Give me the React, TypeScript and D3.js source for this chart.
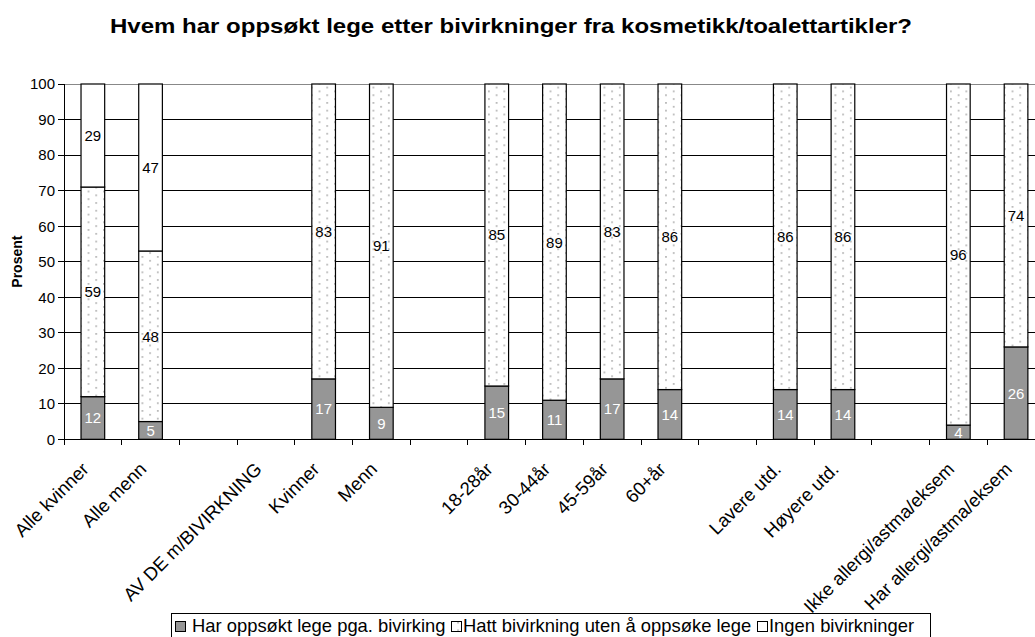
import React from "react";
import * as d3 from "d3";

// Category slots along the x axis (empty strings are spacer slots between groups)
const categories = [
  "Alle kvinner",
  "Alle menn",
  "",
  "AV DE m/BIVIRKNING",
  "Kvinner",
  "Menn",
  "",
  "18-28år",
  "30-44år",
  "45-59år",
  "60+år",
  "",
  "Lavere utd.",
  "Høyere utd.",
  "",
  "Ikke allergi/astma/eksem",
  "Har allergi/astma/eksem",
];

// Percent values per category, one array per series (null = no bar)
const harOppsoktLege = [12, 5, null, null, 17, 9, null, 15, 11, 17, 14, null, 14, 14, null, 4, 26];
const hattUtenLege = [59, 48, null, null, 83, 91, null, 85, 89, 83, 86, null, 86, 86, null, 96, 74];
const ingenBivirkninger = [29, 47, null, null, null, null, null, null, null, null, null, null, null, null, null, null, null];

const seriesNames = [
  "Har oppsøkt lege pga. bivirking",
  "Hatt bivirkning uten å oppsøke lege",
  "Ingen bivirkninger",
];

const yTicks = [0, 10, 20, 30, 40, 50, 60, 70, 80, 90, 100];

const title = "Hvem har oppsøkt lege etter bivirkninger fra kosmetikk/toalettartikler?";
const yLabel = "Prosent";

const W = 1035;
const H = 637;
const FONT = "'Liberation Sans', Arial, Helvetica, sans-serif";

export default function App() {
  const left = 64;
  const slot = 57.7;
  const top = 84;
  const bottom = 439.3;

  const idx = d3.range(categories.length);
  const x = d3
    .scaleBand<number>()
    .domain(idx)
    .range([left, left + slot * categories.length])
    .paddingInner(0)
    .paddingOuter(0);
  const y = d3.scaleLinear().domain([0, 100]).range([bottom, top]);

  const rows = idx.map((i) => ({
    i,
    a: harOppsoktLege[i] ?? 0,
    b: hattUtenLege[i] ?? 0,
    c: ingenBivirkninger[i] ?? 0,
  }));
  const stack = d3.stack<any>().keys(["a", "b", "c"]);
  const layers = stack(rows);

  const barW = x.bandwidth() * 0.41;
  const fills = ["#969696", "url(#dots)", "#ffffff"];
  const labelColors = ["#ffffff", "#000000", "#000000"];

  const xEnd = left + slot * categories.length;

  // legend entries: marker x and text x
  const legendPos = [
    { mx: 175, tx: 192 },
    { mx: 451, tx: 463 },
    { mx: 757, tx: 769 },
  ];

  return (
    <svg
      width={W}
      height={H}
      style={{ position: "absolute", left: 0, top: 0, background: "#fff" }}
      fontFamily={FONT}
    >
      <defs>
        <pattern id="dots" patternUnits="userSpaceOnUse" width={15.4} height={7.7}>
          <rect width={15.4} height={7.7} fill="#ffffff" />
          <rect x={3} y={2} width={1.6} height={1.6} fill="#a8a8a8" />
          <rect x={10.7} y={5.85} width={1.6} height={1.6} fill="#a8a8a8" />
        </pattern>
      </defs>
      <rect x={0} y={0} width={W} height={H} fill="#fff" />

      <text
        x={110}
        y={33}
        fontWeight="bold"
        fontSize={21}
        textLength={802}
        lengthAdjust="spacingAndGlyphs"
      >
        {title}
      </text>

      {/* grid lines */}
      {yTicks.map((t) => (
        <line
          key={"g" + t}
          x1={left}
          x2={xEnd}
          y1={y(t)}
          y2={y(t)}
          stroke={t === 100 ? "#888" : "#000"}
          strokeWidth={1}
          shapeRendering="crispEdges"
        />
      ))}

      {/* stacked bars */}
      {layers.map((layer, li) =>
        layer.map((d: any) => {
          const v = d[1] - d[0];
          if (v <= 0) return null;
          const cx = (x(d.data.i) as number) + x.bandwidth() / 2;
          return (
            <rect
              key={`b${li}-${d.data.i}`}
              x={cx - barW / 2}
              y={y(d[1])}
              width={barW}
              height={y(d[0]) - y(d[1])}
              fill={fills[li]}
              stroke="#000"
              strokeWidth={1.2}
            />
          );
        })
      )}

      {/* value labels */}
      {layers.map((layer, li) =>
        layer.map((d: any) => {
          const v = d[1] - d[0];
          if (v <= 0) return null;
          const cx = (x(d.data.i) as number) + x.bandwidth() / 2;
          return (
            <text
              key={`l${li}-${d.data.i}`}
              x={cx}
              y={y((d[0] + d[1]) / 2)}
              dy="0.36em"
              textAnchor="middle"
              fontSize={15}
              fill={labelColors[li]}
            >
              {v}
            </text>
          );
        })
      )}

      {/* y axis */}
      <line x1={left} x2={left} y1={top} y2={bottom} stroke="#000" shapeRendering="crispEdges" />
      {yTicks.map((t) => (
        <g key={"yt" + t}>
          <line x1={left - 6} x2={left} y1={y(t)} y2={y(t)} stroke="#000" shapeRendering="crispEdges" />
          <text x={left - 9} y={y(t)} dy="0.36em" textAnchor="end" fontSize={15}>
            {t}
          </text>
        </g>
      ))}
      <text
        transform={`translate(22,${(top + bottom) / 2}) rotate(-90)`}
        textAnchor="middle"
        fontWeight="bold"
        fontSize={14}
      >
        {yLabel}
      </text>

      {/* x axis */}
      <line x1={left} x2={xEnd} y1={bottom} y2={bottom} stroke="#000" shapeRendering="crispEdges" />
      {d3.range(categories.length + 1).map((k) => (
        <line
          key={"xt" + k}
          x1={left + k * slot}
          x2={left + k * slot}
          y1={bottom}
          y2={bottom + 6}
          stroke="#000"
          shapeRendering="crispEdges"
        />
      ))}
      {categories.map((c, i) =>
        c ? (
          <text
            key={"xl" + i}
            transform={`translate(${(x(i) as number) + x.bandwidth() / 2 - 3},${bottom + 31}) rotate(-45)`}
            textAnchor="end"
            fontSize={18.5}
          >
            {c}
          </text>
        ) : null
      )}

      {/* legend */}
      <rect x={171.5} y={613.5} width={759} height={40} fill="#fff" stroke="#000" strokeWidth={1} />
      {legendPos.map((p, i) => (
        <g key={"lg" + i}>
          <rect
            x={p.mx + 0.5}
            y={621.5}
            width={10}
            height={10}
            fill={fills[i]}
            stroke="#000"
            strokeWidth={1}
          />
          <text x={p.tx} y={632} fontSize={18.4}>
            {seriesNames[i]}
          </text>
        </g>
      ))}
    </svg>
  );
}
